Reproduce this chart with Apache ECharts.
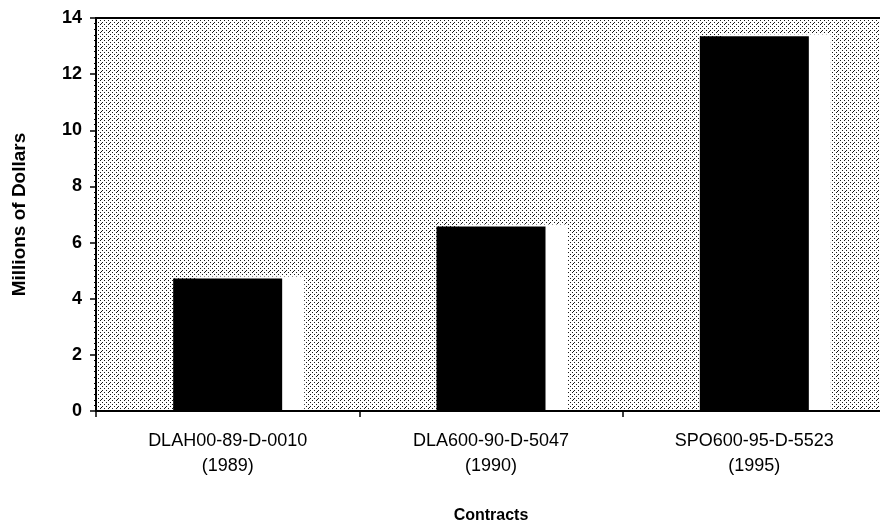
<!DOCTYPE html>
<html><head><meta charset="utf-8">
<script src="https://cdn.jsdelivr.net/npm/echarts@6/dist/echarts.min.js"></script>
<style>html,body{margin:0;padding:0;background:#fff}#c{width:880px;height:526px}</style>
</head><body><div id="c"></div>
<script>
const categories = ['DLAH00-89-D-0010\n(1989)', 'DLA600-90-D-5047\n(1990)', 'SPO600-95-D-5523\n(1995)'];
const values = [4.72, 6.57, 13.35];
const yTicks = { min: 0, max: 14, interval: 2 };

// dotted background pattern
const pc = document.createElement('canvas');
pc.width = 8; pc.height = 8;
const px = pc.getContext('2d');
px.fillStyle = '#ffffff'; px.fillRect(0, 0, 8, 8);
px.fillStyle = '#1a1a1a';
[[0,0],[4,0],[2,2],[6,2],[0,4],[4,4],[2,6],[6,6],[5,7]].forEach(p => px.fillRect(p[0], p[1], 1, 1));

const FF = 'Liberation Sans, Arial, sans-serif';
const chart = echarts.init(document.getElementById('c'), null, { renderer: 'canvas' });
chart.setOption({
  animation: false,
  textStyle: { fontFamily: FF },
  grid: {
    left: 96, top: 18, right: -6, bottom: 115,
    outerBoundsMode: 'none',
    containLabel: false,
    show: true,
    backgroundColor: { image: pc, repeat: 'repeat' },
    borderColor: '#000', borderWidth: 2
  },
  xAxis: {
    type: 'category',
    data: categories,
    name: 'Contracts',
    nameLocation: 'middle',
    nameGap: 97,
    nameTextStyle: { fontSize: 16, fontWeight: 'bold', color: '#000', fontFamily: FF },
    axisLine: { lineStyle: { color: '#000', width: 2 } },
    axisTick: { show: true, length: 6, lineStyle: { color: '#000', width: 1.5 } },
    axisLabel: { color: '#000', fontSize: 18, lineHeight: 25, margin: 18, interval: 0, fontFamily: FF }
  },
  yAxis: {
    type: 'value',
    min: yTicks.min, max: yTicks.max, interval: yTicks.interval,
    name: 'Millions of Dollars',
    nameLocation: 'middle',
    nameGap: 67,
    nameTextStyle: { fontSize: 19, fontWeight: 'bold', color: '#000', fontFamily: FF },
    axisLine: { show: true, lineStyle: { color: '#000', width: 2 } },
    axisTick: { show: true, length: 6, lineStyle: { color: '#000', width: 1.5 } },
    minorTick: { show: true, splitNumber: 10, length: 2, lineStyle: { color: '#000', width: 1 } },
    splitLine: { show: false },
    axisLabel: { color: '#000', fontSize: 18, fontWeight: 'bold', margin: 14, fontFamily: FF }
  },
  series: [{
    type: 'bar',
    data: values,
    barWidth: 109,
    itemStyle: {
      color: '#000',
      shadowColor: '#ffffff',
      shadowBlur: 0,
      shadowOffsetX: 22,
      shadowOffsetY: -2
    }
  }]
});
</script></body></html>
